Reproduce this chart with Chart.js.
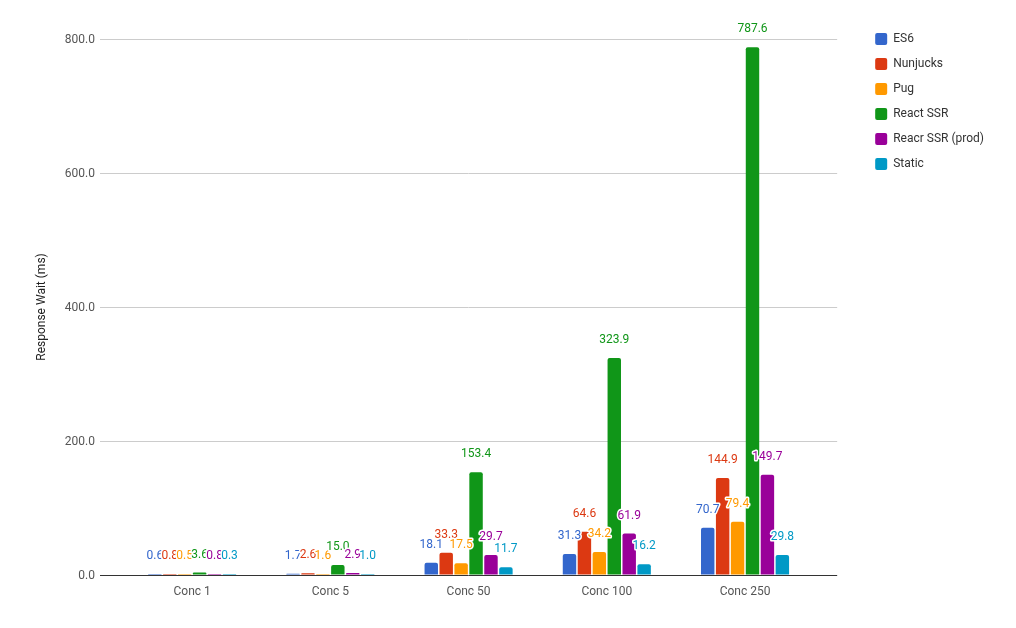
<!DOCTYPE html>
<html>
<head>
<meta charset="utf-8">
<script src="https://cdn.jsdelivr.net/npm/chart.js@4.4.1/dist/chart.umd.min.js"></script>
<style>
html,body{margin:0;padding:0;background:#fff;}
#wrap{width:1016px;height:628px;position:relative;}
</style>
</head>
<body>
<div id="wrap"><canvas id="c" width="1016" height="628"></canvas></div>
<script>
const categories = ['Conc 1', 'Conc 5', 'Conc 50', 'Conc 100', 'Conc 250'];
const seriesNames = ['ES6', 'Nunjucks', 'Pug', 'React SSR', 'Reacr SSR (prod)', 'Static'];
const es6 = [0.6, 1.7, 18.1, 31.3, 70.7];
const nunjucks = [0.8, 2.6, 33.3, 64.6, 144.9];
const pug = [0.5, 1.6, 17.5, 34.2, 79.4];
const reactSSR = [3.6, 15.0, 153.4, 323.9, 787.6];
const reactSSRProd = [0.8, 2.9, 29.7, 61.9, 149.7];
const staticVals = [0.3, 1.0, 11.7, 16.2, 29.8];
const yTicks = [0, 200, 400, 600, 800];
const colors = ['#3366cc', '#dc3912', '#ff9900', '#109618', '#990099', '#0099c6'];

const allSeries = [es6, nunjucks, pug, reactSSR, reactSSRProd, staticVals];

const datasets = allSeries.map((vals, si) => ({
  label: seriesNames[si],
  data: vals.map((v, i) => ({x: i, y: v})),
  backgroundColor: colors[si],
  borderWidth: 0,
  borderRadius: {topLeft: 2, topRight: 2, bottomLeft: 0, bottomRight: 0},
  borderSkipped: 'bottom',
  minBarLength: 1,
  categoryPercentage: 0.648,
  barPercentage: 0.9
}));

const labelPlugin = {
  id: 'barLabels',
  afterDatasetsDraw(chart) {
    const ctx = chart.ctx;
    ctx.save();
    ctx.font = '12px Roboto';
    ctx.textAlign = 'center';
    ctx.textBaseline = 'middle';
    ctx.lineJoin = 'round';
    chart.data.datasets.forEach((ds, di) => {
      const meta = chart.getDatasetMeta(di);
      meta.data.forEach((el, i) => {
        const txt = ds.data[i].y.toFixed(1);
        const y = el.y - 18;
        ctx.lineWidth = 3;
        ctx.strokeStyle = '#ffffff';
        ctx.strokeText(txt, el.x, y);
        ctx.fillStyle = colors[di];
        ctx.fillText(txt, el.x, y);
      });
    });
    ctx.restore();
  }
};

new Chart(document.getElementById('c'), {
  type: 'bar',
  data: {datasets},
  plugins: [labelPlugin],
  options: {
    responsive: false,
    animation: false,
    devicePixelRatio: 1,
    layout: {padding: {top: 20, right: 22, bottom: 0, left: 0}},
    plugins: {
      title: {display: true, text: '', fullSize: false, padding: 0, font: {size: 19, lineHeight: 1}},
      tooltip: {enabled: false},
      legend: {
        position: 'right',
        align: 'start',
        labels: {
          boxWidth: 12,
          boxHeight: 12,
          padding: 13,
          color: '#333333',
          font: {family: 'Roboto', size: 12},
          useBorderRadius: true,
          borderRadius: 2
        }
      }
    },
    scales: {
      x: {
        type: 'linear',
        offset: false,
        min: -0.6667,
        max: 4.6667,
        grid: {display: false, drawTicks: false, offset: false},
        border: {display: false},
        afterBuildTicks(s) { s.ticks = categories.map((c, i) => ({value: i})); },
        afterFit(s) { s.height = 53; },
        ticks: {
          padding: 10,
          color: '#555555',
          font: {family: 'Roboto', size: 12},
          maxRotation: 0,
          autoSkip: false,
          callback: (v) => categories[v]
        }
      },
      y: {
        min: 0,
        max: 800,
        afterBuildTicks(s) { s.ticks = yTicks.map(v => ({value: v})); },
        afterFit(s) { s.width = 100; },
        grid: {
          drawTicks: false,
          color: (c) => c.tick && c.tick.value === 0 ? '#333333' : '#cccccc',
          lineWidth: 1
        },
        border: {display: false},
        ticks: {
          padding: 5,
          labelOffset: 1,
          color: '#555555',
          font: {family: 'Roboto', size: 12},
          callback: (v) => Number(v).toFixed(1)
        },
        title: {
          display: true,
          text: 'Response Wait (ms)',
          color: '#222222',
          font: {family: 'Roboto', size: 12},
          padding: {top: 35, bottom: 0}
        }
      },
      y2: {
        position: 'right',
        display: true,
        grid: {display: false, drawTicks: false},
        border: {display: false},
        ticks: {display: false},
        afterFit(s) { s.width = 25; }
      }
    }
  }
});
</script>
</body>
</html>
